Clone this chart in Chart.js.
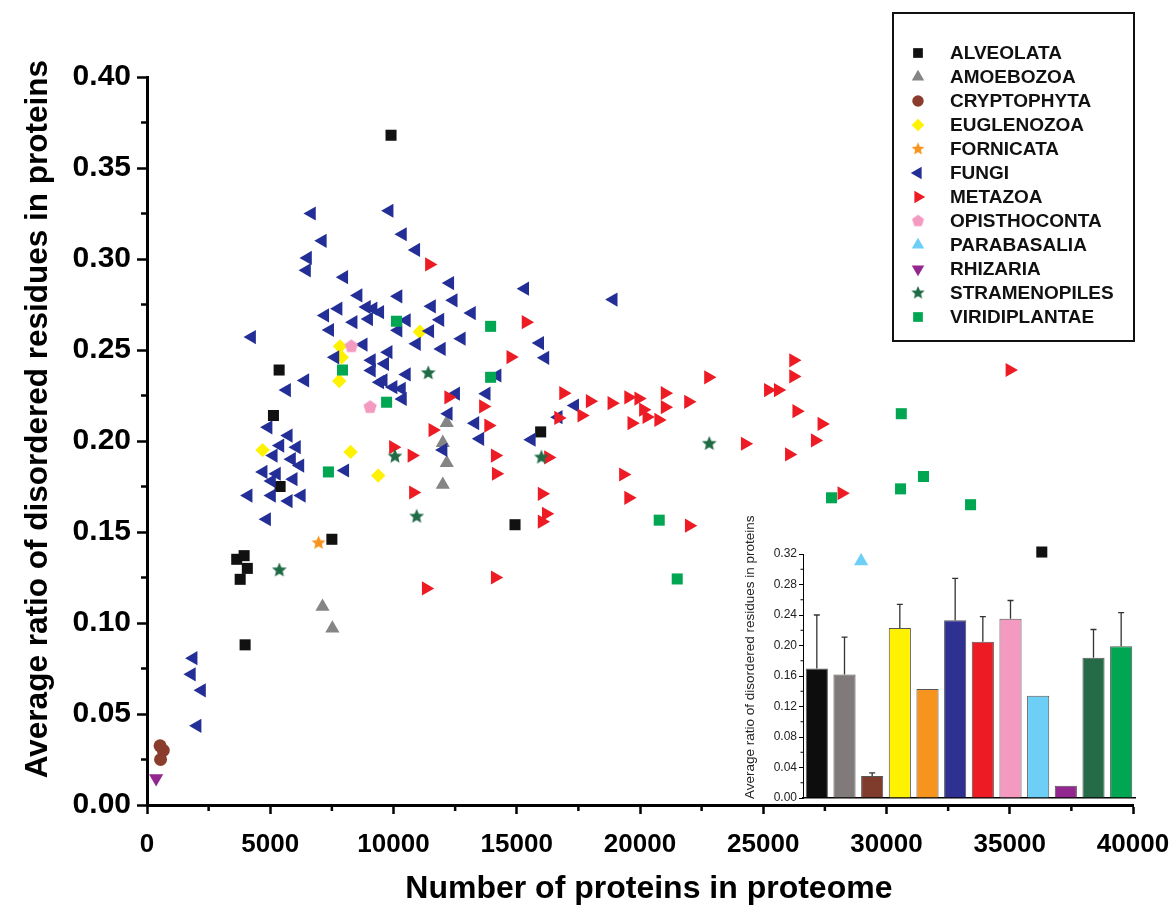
<!DOCTYPE html>
<html>
<head>
<meta charset="utf-8">
<script src="https://cdn.jsdelivr.net/npm/chart.js@4.4.0/dist/chart.umd.min.js"></script>
<style>
  html, body { margin: 0; padding: 0; background: #fff; }
  #wrap { position: relative; width: 1175px; height: 912px; }
  #main { position: absolute; left: 0; top: 0; }
  #inset { position: absolute; left: 740px; top: 500px; }
</style>
</head>
<body>
<div id="wrap">
  <canvas id="main" width="1175" height="912"></canvas>
  <canvas id="inset" width="400" height="310"></canvas>
</div>
<script>
// ---- data ----
const groupNames = ['ALVEOLATA', 'AMOEBOZOA', 'CRYPTOPHYTA', 'EUGLENOZOA', 'FORNICATA', 'FUNGI',
  'METAZOA', 'OPISTHOCONTA', 'PARABASALIA', 'RHIZARIA', 'STRAMENOPILES', 'VIRIDIPLANTAE'];

const alveolataX = [9900, 5360, 5130, 5400, 7500, 3640, 3940, 4070, 3780, 3980, 15970, 14930, 36300];
const alveolataY = [0.368, 0.239, 0.214, 0.175, 0.146, 0.135, 0.137, 0.130, 0.124, 0.088, 0.205, 0.154, 0.139];

const amoebozoaX = [12160, 12000, 12160, 12000, 7120, 7520];
const amoebozoaY = [0.210, 0.199, 0.188, 0.176, 0.109, 0.097];

const cryptophytaX = [530, 660, 550];
const cryptophytaY = [0.0325, 0.030, 0.025];

const euglenozoaX = [11070, 7830, 7900, 7800, 4690, 8260, 9380];
const euglenozoaY = [0.260, 0.252, 0.246, 0.233, 0.195, 0.194, 0.181];

const fornicataX = [6960];
const fornicataY = [0.144];

const fungiX = [6680, 9830, 7120, 10370, 10910, 6520, 6480, 7990, 12290, 8570,
  10190, 12430, 11550, 9180, 8910, 9450, 7760, 7220, 8370, 11890,
  10530, 7420, 11480, 4250, 15330, 18920, 13170, 10190, 12760, 10940,
  11950, 15940, 16150, 9790, 9650, 10530, 9590, 9990, 10330, 10370,
  14210, 12530, 13770, 12230, 13310, 13510, 15600, 17360, 16690, 12020,
  8780, 7630, 9110, 9110, 6410, 9450, 5670, 4920, 5740, 6070,
  5400, 5130, 5870, 6210, 4720, 5260, 5060, 5940, 4110, 5060,
  5740, 6270, 4860, 8030, 1880, 1810, 2220, 2040, 9000];
const fungiY = [0.325, 0.3265, 0.310, 0.3136, 0.305, 0.3006, 0.2938, 0.290, 0.2868, 0.280,
  0.2795, 0.2773, 0.274, 0.2727, 0.2736, 0.2708, 0.2727, 0.269, 0.2653, 0.2666,
  0.2663, 0.261, 0.2604, 0.2571, 0.2837, 0.2777, 0.2703, 0.2608, 0.2562, 0.2534,
  0.2506, 0.2538, 0.2457, 0.2488, 0.2424, 0.2366, 0.2333, 0.2296, 0.2287, 0.2231,
  0.236, 0.226, 0.226, 0.215, 0.2098, 0.2012, 0.2007, 0.2195, 0.2131, 0.1951,
  0.253, 0.246, 0.2443, 0.2388, 0.2333, 0.2323, 0.228, 0.2075, 0.203, 0.1966,
  0.1975, 0.192, 0.190, 0.1865, 0.183, 0.182, 0.178, 0.179, 0.170, 0.170,
  0.167, 0.170, 0.157, 0.1838, 0.0807, 0.0718, 0.063, 0.0435, 0.267];

const metazoaX = [11450, 15370, 14750, 16890, 12230, 13640, 17970, 18850, 19530, 19940,
  20130, 20270, 21010, 21010, 20750, 19660, 16690, 17630, 13850, 11590,
  9990, 10740, 14120, 16280, 21960, 22770, 24260, 25200, 25600, 26220,
  26220, 26350, 27370, 27100, 26050, 19320, 19530, 21990, 28180, 35000,
  14160, 10800, 16020, 16190, 16020, 11320, 14120];
const metazoaY = [0.297, 0.2653, 0.2461, 0.2263, 0.224, 0.219, 0.2219, 0.2208, 0.224, 0.2233,
  0.2172, 0.2132, 0.2263, 0.2186, 0.2116, 0.2098, 0.2127, 0.214, 0.2085, 0.206,
  0.1966, 0.192, 0.192, 0.191, 0.2215, 0.235, 0.1985, 0.228, 0.228, 0.2443,
  0.2355, 0.2164, 0.2094, 0.2003, 0.1926, 0.1816, 0.1688, 0.1535, 0.1713, 0.239,
  0.182, 0.1717, 0.171, 0.160, 0.1557, 0.119, 0.125];

const opisthocontaX = [8290, 9050];
const opisthocontaY = [0.252, 0.2186];

const parabasaliaX = [28970];
const parabasaliaY = [0.134];

const rhizariaX = [370];
const rhizariaY = [0.0147];

const stramenopilesX = [11410, 10060, 10940, 5370, 22810, 16000];
const stramenopilesY = [0.2373, 0.1915, 0.1585, 0.129, 0.1985, 0.191];

const viridiplantaeX = [10120, 13940, 13940, 9720, 7930, 7360, 20780, 21510, 27770, 30600, 31500, 30570, 33410];
const viridiplantaeY = [0.2658, 0.263, 0.235, 0.2213, 0.239, 0.183, 0.1565, 0.1242, 0.1688, 0.215, 0.1805, 0.1737, 0.165];

// inset: mean ratio per group and the upper error (sd); null = no error bar
const insetMeans = [0.170, 0.162, 0.029, 0.223, 0.143, 0.233, 0.205, 0.235, 0.134, 0.016, 0.184, 0.199];
const insetErrors = [0.070, 0.049, 0.004, 0.031, null, 0.055, 0.033, 0.024, null, null, 0.037, 0.044];

const xTicks = [0, 5000, 10000, 15000, 20000, 25000, 30000, 35000, 40000];
const yTicks = [0, 0.05, 0.10, 0.15, 0.20, 0.25, 0.30, 0.35, 0.40];

// ---- styles ----
const FONT = "'Liberation Sans', Arial, Helvetica, sans-serif";
const colors = ['#111111', '#858585', '#8a3d2c', '#fff200', '#f7941d', '#232f96',
  '#ed1c24', '#f49ac1', '#6dcff6', '#92278f', '#1f6b45', '#00a651'];
const barColors = ['#0d0d0d', '#807b7a', '#7f3b2b', '#fff200', '#f7941d', '#2e3192',
  '#ed1c24', '#f49ac1', '#6dcff6', '#92278f', '#266b48', '#00a651'];

function polyImage(color, r, n, inner) {
  const size = Math.ceil(r * 2) + 2;
  const c = document.createElement('canvas');
  c.width = c.height = size;
  const g = c.getContext('2d');
  g.fillStyle = color;
  g.beginPath();
  const steps = inner ? n * 2 : n;
  for (let k = 0; k < steps; k++) {
    const rr = inner && k % 2 ? r * inner : r;
    const a = -Math.PI / 2 + k * 2 * Math.PI / steps;
    g.lineTo(size / 2 + rr * Math.cos(a), size / 2 + rr * Math.sin(a));
  }
  g.closePath();
  g.fill();
  return c;
}

const markers = [
  { style: 'rect', r: 7.8, rot: 0 },
  { style: 'triangle', r: 8.2, rot: 0 },
  { style: 'circle', r: 6.5, rot: 0 },
  { style: 'rectRot', r: 7.2, rot: 0 },
  { style: polyImage(colors[4], 7.5, 5, 0.45), r: 7, rot: 0 },
  { style: 'triangle', r: 8.2, rot: -90 },
  { style: 'triangle', r: 8.2, rot: 90 },
  { style: polyImage(colors[7], 7, 5, 0), r: 7, rot: 0 },
  { style: 'triangle', r: 8.2, rot: 0 },
  { style: 'triangle', r: 8.2, rot: 180 },
  { style: polyImage(colors[10], 7.8, 5, 0.45), r: 7, rot: 0 },
  { style: 'rect', r: 7.8, rot: 0 }
];

function zip(xs, ys) { return xs.map((x, i) => ({ x: x, y: ys[i] })); }

const seriesX = [alveolataX, amoebozoaX, cryptophytaX, euglenozoaX, fornicataX, fungiX,
  metazoaX, opisthocontaX, parabasaliaX, rhizariaX, stramenopilesX, viridiplantaeX];
const seriesY = [alveolataY, amoebozoaY, cryptophytaY, euglenozoaY, fornicataY, fungiY,
  metazoaY, opisthocontaY, parabasaliaY, rhizariaY, stramenopilesY, viridiplantaeY];

const datasets = groupNames.map((name, i) => ({
  label: name,
  data: zip(seriesX[i], seriesY[i]),
  backgroundColor: colors[i],
  borderColor: colors[i],
  borderWidth: 0,
  pointStyle: markers[i].style,
  pointRadius: markers[i].r,
  pointRotation: markers[i].rot,
  order: groupNames.length - i   // later groups drawn on top, like the original
}));

// draw one marker by hand (used by the legend)
function drawMarker(ctx, m, color, x, y, r) {
  if (typeof m.style !== 'string') {
    const w = m.style.width * 0.9;
    ctx.drawImage(m.style, x - w / 2, y - w / 2, w, w);
    return;
  }
  ctx.fillStyle = color;
  ctx.beginPath();
  const rad = m.rot * Math.PI / 180;
  if (m.style === 'rect') {
    const s = Math.SQRT1_2 * r;
    ctx.rect(x - s, y - s, 2 * s, 2 * s);
  } else if (m.style === 'circle') {
    ctx.arc(x, y, r, 0, Math.PI * 2);
  } else if (m.style === 'rectRot') {
    ctx.moveTo(x, y - r); ctx.lineTo(x + r, y); ctx.lineTo(x, y + r); ctx.lineTo(x - r, y);
  } else if (m.style === 'triangle') {
    for (let k = 0; k < 3; k++) {
      const a = rad + k * 2 * Math.PI / 3;
      ctx.lineTo(x + Math.sin(a) * r, y - Math.cos(a) * r);
    }
  }
  ctx.closePath();
  ctx.fill();
}

const legendBox = {
  id: 'legendBox',
  afterDraw(chart) {
    const ctx = chart.ctx;
    ctx.save();
    ctx.fillStyle = '#fff';
    ctx.fillRect(893, 13, 241, 328);
    ctx.strokeStyle = '#111';
    ctx.lineWidth = 2;
    ctx.strokeRect(893, 13, 241, 328);
    ctx.font = "bold 19px " + FONT;
    ctx.textBaseline = 'middle';
    groupNames.forEach((name, i) => {
      const y = 53 + i * 24;
      drawMarker(ctx, markers[i], colors[i], 918, y, markers[i].r * 0.88);
      ctx.fillStyle = '#111';
      ctx.fillText(name, 950, y + 1);
    });
    ctx.restore();
  }
};

function minorTicks(id, cfg) {
  return {
    id: id,
    afterDraw(chart) {
      const ctx = chart.ctx;
      ctx.save();
      ctx.strokeStyle = '#000';
      cfg.forEach(c => {
        const s = chart.scales[c.scale];
        ctx.lineWidth = c.width;
        for (let v = c.from; v <= c.to + 1e-9; v += c.step) {
          const p = s.getPixelForValue(v);
          ctx.beginPath();
          if (s.isHorizontal()) { ctx.moveTo(p, s.top); ctx.lineTo(p, s.top + c.len); }
          else { ctx.moveTo(s.right, p); ctx.lineTo(s.right - c.len, p); }
          ctx.stroke();
        }
      });
      ctx.restore();
    }
  };
}

new Chart(document.getElementById('main'), {
  type: 'scatter',
  data: { datasets: datasets },
  options: {
    responsive: false,
    animation: false,
    events: [],
    layout: { padding: { top: 77, right: 42, bottom: 0, left: 0 } },
    plugins: { legend: { display: false }, tooltip: { enabled: false } },
    scales: {
      x: {
        type: 'linear', min: 0, max: 40000,
        afterBuildTicks(s) { s.ticks = xTicks.map(v => ({ value: v })); },
        afterFit(s) { s.height = 107; s.paddingLeft = 0; s.paddingRight = 0; },
        ticks: { color: '#000', font: { family: FONT, size: 26, weight: 'bold' }, padding: 15,
          maxRotation: 0, autoSkip: false, callback: v => String(v) },
        grid: { drawOnChartArea: false, tickLength: 9, tickWidth: 2.5, tickColor: '#000' },
        border: { color: '#000', width: 3 },
        title: { display: true, text: '  Number of proteins in proteome', color: '#000',
          font: { family: FONT, size: 32, weight: 'bold' }, padding: { top: 0, bottom: 4 } }
      },
      y: {
        type: 'linear', min: 0, max: 0.4,
        afterBuildTicks(s) { s.ticks = yTicks.map(v => ({ value: v })); },
        afterFit(s) { s.width = 147; },
        ticks: { color: '#000', font: { family: FONT, size: 30, weight: 'bold' }, padding: 6,
          callback: v => v.toFixed(2) },
        grid: { drawOnChartArea: false, tickLength: 10, tickWidth: 2.5, tickColor: '#000' },
        border: { color: '#000', width: 3 },
        title: { display: true, text: '     Average ratio of disordered residues in proteins', color: '#000',
          font: { family: FONT, size: 31.5, weight: 'bold' }, padding: { top: 19, bottom: 0 } }
      }
    }
  },
  plugins: [
    minorTicks('mainMinor', [
      { scale: 'x', from: 2500, to: 37500, step: 5000, len: 6, width: 2.5 },
      { scale: 'y', from: 0.025, to: 0.375, step: 0.05, len: 6, width: 2.5 }
    ]),
    legendBox
  ]
});

// ---- inset bar chart ----
const errorBars = {
  id: 'errorBars',
  afterDatasetsDraw(chart) {
    const ctx = chart.ctx;
    const y = chart.scales.y;
    const meta = chart.getDatasetMeta(0);
    ctx.save();
    ctx.strokeStyle = '#333';
    ctx.lineWidth = 1.3;
    meta.data.forEach((bar, i) => {
      const e = insetErrors[i];
      if (e == null) return;
      const top = y.getPixelForValue(insetMeans[i] + e);
      ctx.beginPath();
      ctx.moveTo(bar.x, bar.y);
      ctx.lineTo(bar.x, top);
      ctx.moveTo(bar.x - 3, top);
      ctx.lineTo(bar.x + 3, top);
      ctx.stroke();
    });
    ctx.restore();
  }
};

new Chart(document.getElementById('inset'), {
  type: 'bar',
  data: {
    labels: groupNames,
    datasets: [{
      data: insetMeans,
      backgroundColor: barColors,
      borderColor: '#555',
      borderWidth: 1,
      barPercentage: 0.8,
      categoryPercentage: 1
    }]
  },
  options: {
    responsive: false,
    animation: false,
    events: [],
    layout: { padding: { top: 54, right: 5, bottom: 0, left: 0 } },
    plugins: { legend: { display: false }, tooltip: { enabled: false } },
    scales: {
      x: {
        ticks: { display: false },
        grid: { display: false, drawTicks: false },
        border: { color: '#000', width: 1.5 },
        afterFit(s) { s.height = 12; }
      },
      y: {
        min: 0, max: 0.32,
        afterFit(s) { s.width = 63; },
        ticks: { stepSize: 0.04, color: '#222', font: { family: FONT, size: 12 }, padding: 2,
          callback: v => v.toFixed(2) },
        grid: { drawOnChartArea: false, tickLength: 4, tickWidth: 1, tickColor: '#000' },
        border: { color: '#000', width: 1 },
        title: { display: true, text: '          Average ratio of disordered residues in proteins', color: '#222',
          font: { family: FONT, size: 13.5 }, padding: { top: 2, bottom: 0 } }
      }
    }
  },
  plugins: [
    errorBars,
    minorTicks('insetMinor', [{ scale: 'y', from: 0.02, to: 0.30, step: 0.04, len: 2.5, width: 1 }])
  ]
});
</script>
</body>
</html>
